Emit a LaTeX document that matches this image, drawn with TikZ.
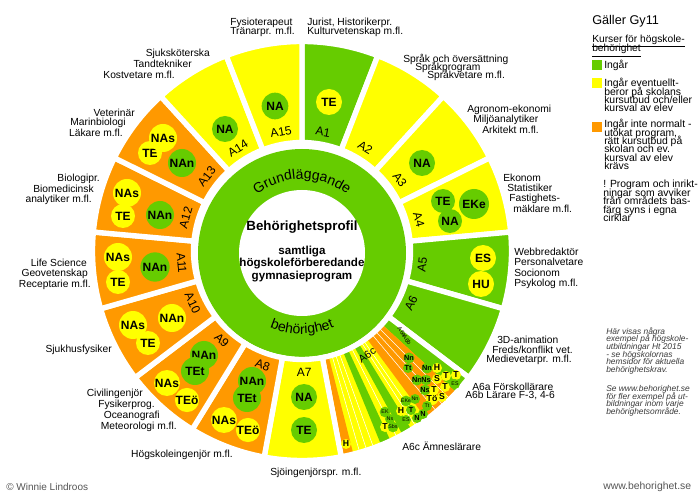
\documentclass[tikz,border=0pt]{standalone}
\usepackage{fontspec}
\setmainfont{Liberation Sans}
\usetikzlibrary{decorations.text}
\definecolor{gr}{HTML}{66CC00}
\definecolor{ye}{HTML}{FFFF00}
\definecolor{og}{HTML}{FF9900}
\definecolor{ng}{HTML}{3A3A3A}
\definecolor{wg}{HTML}{555555}
\newcommand\mysec[3]{\filldraw[fill=#1,draw=white,line width=4pt] (#2:108.5) arc[start angle=#2,end angle=#3,radius=108.5] -- (#3:209.5) arc[start angle=#3,end angle=#2,radius=209.5] -- cycle;}
\newcommand\mystrip[3]{\fill[#1] (#2:108.5) arc[start angle=#2,end angle=#3,radius=108.5] -- (#3:209.5) arc[start angle=#3,end angle=#2,radius=209.5] -- cycle;}
\newcommand\ringfont{\fontsize{10.5}{12}\selectfont}
\newcommand\tightlines{\lineskiplimit=-20pt\lineskip=0pt}
\tikzset{
 lab/.style={font=\fontsize{7.7}{8}\selectfont, inner sep=0pt},
 alab/.style={font=\fontsize{9}{9}\selectfont, inner sep=0pt},
 gc/.style={circle, fill=gr, inner sep=0pt, minimum size=#1, font=\bfseries\fontsize{9}{9}\selectfont},
 gc/.default=20pt,
 yc/.style={circle, fill=ye, inner sep=0pt, minimum size=#1, font=\bfseries\fontsize{9}{9}\selectfont},
 yc/.default=20pt,
 sg/.style={circle, fill=gr, inner sep=0pt, minimum size=7.5pt, font=\bfseries\fontsize{5.5}{5.5}\selectfont},
 sy/.style={circle, fill=ye, inner sep=0pt, minimum size=7.5pt, font=\bfseries\fontsize{6.5}{6.5}\selectfont},
 tinyfont/.style={font=\fontsize{4}{4}\selectfont},
 wl/.style={white, line width=0.4pt},
 legtxt/.style={font=\fontsize{7.8}{6.3}\selectfont\tightlines, inner sep=0pt, align=left, anchor=north west},
 notetxt/.style={font=\itshape\fontsize{6.3}{5.8}\selectfont\tightlines, text=ng, inner sep=0pt, align=left, anchor=north west},
 sq/.style={minimum size=7.5pt, inner sep=0pt},
}
\begin{document}
\begin{tikzpicture}[x=0.75pt,y=0.75pt]
\useasboundingbox (0,0) rectangle (700,-495);
\fill[white] (0,0) rectangle (700,-495);
% central ring
\begin{scope}[shift={(302,-253)}]
 \fill[gr] (0,0) circle (104);
 \fill[white] (0,0) circle (63);
 \path[decorate, decoration={text along path, text align=center, text={|\ringfont|Grundläggande}}] (150:74) arc[start angle=150, end angle=30, radius=74];
 \path[decorate, decoration={text along path, text align=center, text={|\ringfont|behörighet}}] (230:81) arc[start angle=230, end angle=310, radius=81];
\end{scope}
\node[font=\bfseries\fontsize{10}{10}\selectfont, inner sep=0pt] (title) at (302,-227) {Behörighetsprofil};
\node[font=\bfseries\fontsize{8.7}{9.4}\selectfont\tightlines, inner sep=0pt, align=center] (sub) at (302,-264) {samtliga\\högskoleförberedande\\gymnasieprogram};
% sectors
\begin{scope}[shift={(302,-251)}]
 \mysec{gr}{90}{68.8}
 \mysec{ye}{68.8}{47.6}
 \mysec{ye}{47.6}{26.4}
 \mysec{ye}{26.4}{5.2}
 \mysec{gr}{5.2}{-16}
 \mysec{gr}{-16}{-37.2}
 % A6a / A6b / A6c
 \mystrip{ye}{-37.2}{-79.2}
 \mystrip{gr}{-37.2}{-42.5}
 \mystrip{og}{-42.5}{-53.5}
 \mystrip{gr}{-58.5}{-61.3}
 \mystrip{gr}{-65}{-67.8}
 \mystrip{og}{-75.8}{-79.2}
 \foreach \a in {-45,-47.5,-50,-55.5,-57,-63,-70,-72,-74}{\draw[wl] (\a:108) -- (\a:210);}
 \draw[white,line width=4pt] (-37.2:108.5) arc[start angle=-37.2,end angle=-79.2,radius=108.5] -- (-79.2:209.5) arc[start angle=-79.2,end angle=-37.2,radius=209.5] -- cycle;
 \mysec{ye}{-79.2}{-100.4}
 \mysec{og}{238.4}{259.6}
 \mysec{og}{217.2}{238.4}
 \mysec{og}{196}{217.2}
 \mysec{og}{174.8}{196}
 \mysec{og}{153.6}{174.8}
 \mysec{og}{132.4}{153.6}
 \mysec{ye}{111.2}{132.4}
 \mysec{ye}{90}{111.2}
 % area labels
 \node[alab, rotate=-10] (la1) at (80:121) {A1};
 \node[alab, rotate=-31] (la2) at (58.5:121) {A2};
 \node[alab, rotate=-54] (la3) at (36:121) {A3};
 \node[alab, rotate=-75] (la4) at (15:121) {A4};
 \node[alab, rotate=83] (la5) at (-6.7:121) {A5};
 \node[alab, rotate=64] (la6) at (-25.7:121) {A6};
 \node[alab, rotate=0] (la7) at (271:121) {A7};
 \node[alab, rotate=-19] (la8) at (251:121) {A8};
 \node[alab, rotate=-43] (la9) at (228:120) {A9};
 \node[alab, rotate=-65] (la10) at (205.3:121) {A10};
 \node[alab, rotate=-85] (la11) at (185.7:121) {A11};
 \node[alab, rotate=74] (la12) at (164:121) {A12};
 \node[alab, rotate=52] (la13) at (142:121) {A13};
 \node[alab, rotate=32] (la14) at (122:121) {A14};
 \node[alab, rotate=10] (la15) at (100:121) {A15};
\end{scope}
\node[font=\fontsize{8}{8}\selectfont, inner sep=0pt, rotate=35] (la6c) at (367,-355) {A6c};
\node[font=\fontsize{4.5}{4.5}\selectfont, inner sep=0pt, rotate=-55] (la6a) at (402,-332) {A6a};
\node[font=\fontsize{4.5}{4.5}\selectfont, inner sep=0pt, rotate=-55] (la6b) at (407,-340) {A6b};
% big circles
\node[yc=19.5pt] (c1) at (329,-102) {TE};
\node[gc=20pt] (c15) at (275,-106) {NA};
\node[gc=19.5pt] (c14) at (225,-129) {NA};
\node[yc=18pt] (c13b) at (150,-153) {TE};
\node[yc=21pt] (c13a) at (163,-138) {NAs};
\node[gc=21pt] (c13c) at (182,-163) {NAn};
\node[yc=18pt] (c12b) at (123,-216) {TE};
\node[yc=21pt] (c12a) at (127,-193) {NAs};
\node[gc=21pt] (c12c) at (160,-215) {NAn};
\node[yc=18pt] (c11b) at (118,-282) {TE};
\node[yc=21pt] (c11a) at (118,-257) {NAs};
\node[gc=22pt] (c11c) at (155,-267) {NAn};
\node[yc=18pt] (c10b) at (148,-343) {TE};
\node[yc=21pt] (c10a) at (133,-325) {NAs};
\node[yc=21pt] (c10c) at (172,-318) {NAn};
\node[gc=21pt] (c9a) at (204,-355) {NAn};
\node[gc=21pt] (c9b) at (195,-371) {TEt};
\node[yc=19.5pt] (c9c) at (167,-383) {NAs};
\node[yc=18pt] (c9d) at (187,-400) {TEö};
\node[gc=21pt] (c8a) at (252,-381) {NAn};
\node[gc=21pt] (c8b) at (247,-398) {TEt};
\node[yc=19.5pt] (c8c) at (224,-420) {NAs};
\node[yc=18pt] (c8d) at (248,-430) {TEö};
\node[gc=19.5pt] (c7a) at (304,-397) {NA};
\node[gc=19.5pt] (c7b) at (304,-430) {TE};
\node[gc=19.5pt] (c3) at (422,-163) {NA};
\node[gc=18pt] (c4a) at (443,-201) {TE};
\node[gc=18pt] (c4b) at (450,-221) {NA};
\node[gc=22.5pt] (c4c) at (474,-204) {EKe};
\node[yc=19.5pt] (c5b) at (481,-284) {HU};
\node[yc=19.5pt] (c5a) at (483,-258) {ES};
% small circles in A6 region
\node[sg] (s1) at (409,-358) {Nn};
\node[sg] (s2) at (408,-368) {Tt};
\node[sg] (s3) at (427,-368) {Nn};
\node[sy] (s4) at (437,-368) {H};
\node[sg] (s5) at (417,-380) {Nn};
\node[sg] (s6) at (426,-380) {Ns};
\node[sy] (s7) at (437,-379) {S};
\node[sy] (s8) at (446,-376) {T};
\node[sy] (s9) at (456,-375) {T};
\node[sg, tinyfont] (s10) at (455,-384) {ES};
\node[sg] (s11) at (425,-390) {Ns};
\node[sy] (s12) at (434,-390) {T};
\node[sy] (s13) at (445,-387) {T};
\node[sy] (s14) at (432,-399) {Tö};
\node[sy] (s15) at (442,-397) {S};
\node[sg, tinyfont, minimum size=8pt] (s16) at (406,-401) {EKe};
\node[sg, tinyfont] (s17) at (415,-399) {Nn};
\node[sg, tinyfont] (s18) at (427,-406) {Tt};
\node[sy] (s19) at (401,-411) {H};
\node[sg] (s20) at (411,-410) {T};
\node[sg] (s22) at (423,-414) {N};
\node[sg] (s21) at (417,-418) {N};
\node[sg, tinyfont, minimum size=8pt] (s23) at (385,-412) {EK};
\node[sg, tinyfont] (s24) at (390,-419) {Ns};
\node[sg, tinyfont] (s25) at (406,-420) {ES};
\node[sy] (s26) at (385,-427) {T};
\node[sg, tinyfont, minimum size=8pt] (s27) at (393,-427) {Sbs};
\node[sy] (s28) at (346,-444) {H};
% outer texts, right aligned
\node[lab, anchor=east] (t1) at (210,-54) {Sjuksköterska};
\node[lab, anchor=east] (t2) at (192,-64) {Tandtekniker};
\node[lab, anchor=east] (t3) at (175,-75) {Kostvetare m.fl.};
\node[lab, anchor=east] (t4) at (135,-113) {Veterinär};
\node[lab, anchor=east] (t5) at (126,-123) {Marinbiologi};
\node[lab, anchor=east] (t6) at (123,-133) {Läkare m.fl.};
\node[lab, anchor=east] (t7) at (100,-179) {Biologipr.};
\node[lab, anchor=east] (t8) at (94,-189) {Biomedicinsk};
\node[lab, anchor=east] (t9) at (92,-200) {analytiker m.fl.};
\node[lab, anchor=east] (t10) at (87,-263) {Life Science};
\node[lab, anchor=east] (t11) at (88,-274) {Geovetenskap};
\node[lab, anchor=east] (t12) at (91,-285) {Receptarie m.fl.};
\node[lab, anchor=east] (t13) at (112,-350) {Sjukhusfysiker};
\node[lab, anchor=east] (t14) at (143,-394) {Civilingenjör};
\node[lab, anchor=east] (t15) at (155,-405) {Fysikerprog.};
\node[lab, anchor=east] (t16) at (160,-416) {Oceanografi};
\node[lab, anchor=east] (t17) at (177,-427) {Meteorologi m.fl.};
\node[lab, anchor=east] (t18) at (233,-455) {Högskoleingenjör m.fl.};
% outer texts, left aligned
\node[lab, anchor=west] (u1) at (230,-23) {Fysioterapeut};
\node[lab, anchor=west] (u2) at (230,-32) {Tränarpr. m.fl.};
\node[lab, anchor=west] (u3) at (307,-23) {Jurist, Historikerpr.};
\node[lab, anchor=west] (u4) at (307,-32) {Kulturvetenskap m.fl.};
\node[lab, anchor=west] (u5) at (403,-59) {Språk och översättning};
\node[lab, anchor=west] (u6) at (415,-67) {Språkprogram};
\node[lab, anchor=west] (u7) at (427,-75) {Språkvetare m.fl.};
\node[lab, anchor=west] (u8) at (467,-110) {Agronom-ekonomi};
\node[lab, anchor=west] (u9) at (473,-120) {Miljöanalytiker};
\node[lab, anchor=west] (u10) at (482,-130) {Arkitekt m.fl.};
\node[lab, anchor=west] (u11) at (503,-178) {Ekonom};
\node[lab, anchor=west] (u12) at (507,-188) {Statistiker};
\node[lab, anchor=west] (u13) at (509,-199) {Fastighets-};
\node[lab, anchor=west] (u14) at (513,-209) {mäklare m.fl.};
\node[lab, anchor=west] (u15) at (514,-252) {Webbredaktör};
\node[lab, anchor=west] (u16) at (514,-262) {Personalvetare};
\node[lab, anchor=west] (u17) at (514,-273) {Socionom};
\node[lab, anchor=west] (u18) at (514,-284) {Psykolog m.fl.};
\node[lab, anchor=west] (u19) at (497,-340) {3D-animation};
\node[lab, anchor=west] (u20) at (492,-350) {Freds/konflikt vet.};
\node[lab, anchor=west] (u21) at (486,-360) {Medievetarpr. m.fl.};
\node[lab, anchor=west] (u22) at (472,-387) {A6a Förskollärare};
\node[lab, anchor=west] (u23) at (465,-395) {A6b Lärare F-3, 4-6};
\node[lab, anchor=west] (u24) at (402,-446) {A6c Ämneslärare};
\node[lab, anchor=west] (u25) at (270,-473) {Sjöingenjörspr. m.fl.};
% legend
\node[font=\fontsize{9.5}{9.5}\selectfont, inner sep=0pt, anchor=west] (leg0) at (592,-21) {Gäller Gy11};
\node[font=\fontsize{7.7}{6.8}\selectfont\tightlines, inner sep=0pt, align=left, anchor=north west] (leg1) at (592,-35) {\underline{Kurser för högskole-}\\\underline{behörighet}};
\node[sq, fill=gr] (sq1) at (597,-65) {};
\node[lab, anchor=west, font=\fontsize{7.8}{7.8}\selectfont] (leg2) at (604,-65) {Ingår};
\node[sq, fill=ye] (sq2) at (597,-83) {};
\node[legtxt] (leg3) at (604,-78) {Ingår eventuellt-\\beror på skolans\\kursutbud och/eller\\kursval av elev};
\node[sq, fill=og] (sq3) at (597,-127) {};
\node[legtxt] (leg4) at (604,-119) {Ingår inte normalt -\\utökat program,\\rätt kursutbud på\\skolan och ev.\\kursval av elev\\krävs};
\node[legtxt] (leg5) at (603,-180) {! Program och inrikt-\\ningar som avviker\\från områdets bas-\\färg syns i egna\\cirklar};
% notes
\node[notetxt] (n1) at (606,-327) {Här visas några\\exempel på högskole-\\utbildningar Ht 2015\\- se högskolornas\\hemsidor för aktuella\\behörighetskrav.};
\node[notetxt] (n2) at (606,-385) {Se www.behorighet.se\\för fler exempel på ut-\\bildningar inom varje\\behörighetsområde.};
\node[font=\fontsize{7.8}{7.8}\selectfont, text=wg, inner sep=0pt, anchor=west] (web) at (603,-487) {www.behorighet.se};
\node[font=\fontsize{7.5}{7.5}\selectfont, text=wg, inner sep=0pt, anchor=west] (copy) at (6,-487) {© Winnie Lindroos};
\end{tikzpicture}
\end{document}
